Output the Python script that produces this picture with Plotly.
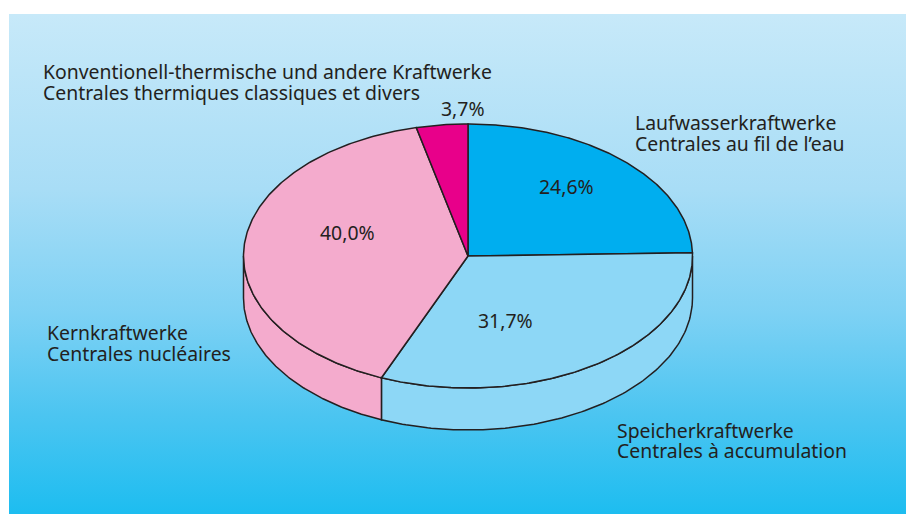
import numpy as np
import plotly.graph_objects as go

# ---- data ----
values = [24.6, 31.7, 40.0, 3.7]
labels_de = ["Laufwasserkraftwerke", "Speicherkraftwerke", "Kernkraftwerke",
             "Konventionell-thermische und andere Kraftwerke"]
labels_fr = ["Centrales au fil de l’eau", "Centrales à accumulation", "Centrales nucléaires",
             "Centrales thermiques classiques et divers"]
colors = ["#00aeef", "#8dd7f6", "#f4abcd", "#e8008a"]

# ---- layout geometry (pixels) ----
W, H = 906, 514
cx, cy, rx, ry, depth = 468, 256, 224.5, 132, 42
pct_pos = [(566, 186), (505, 320), (347, 232), (463, 108)]
name_pos = [(634, 122, 143), (616, 430, 450), (46, 332, 353), (42, 71, 92)]
line_col = "#231f20"
font_fam = "Noto Sans"
fsize = 19.4

fig = go.Figure()

# gradient background
fig.add_trace(go.Scatter(
    x=[9, W, W, 9, 9], y=[14, 14, H, H, 14], mode="lines", fill="toself",
    line=dict(width=0), hoverinfo="skip", showlegend=False,
    fillgradient=dict(type="vertical", start=14, stop=H,
                      colorscale=[[0, "#c7e9f9"], [0.35, "#a8ddf6"], [0.6, "#7dd1f4"],
                                  [0.8, "#4cc5f1"], [1, "#1dbdf0"]])))

total = sum(values)
bounds = np.concatenate([[0], np.cumsum(values) / total * 360.0])

def pt(theta_deg, dy=0.0):
    t = np.radians(theta_deg)
    return cx + rx * np.sin(t), cy - ry * np.cos(t) + dy

# side walls (front half: 90..270 degrees clockwise from top)
for i, v in enumerate(values):
    a0, a1 = bounds[i], bounds[i + 1]
    s, e = max(a0, 90.0), min(a1, 270.0)
    if e <= s:
        continue
    th = np.linspace(s, e, 120)
    xt, yt = pt(th)
    xb, yb = pt(th[::-1], depth)
    xs = np.concatenate([xt, xb, xt[:1]])
    ys = np.concatenate([yt, yb, yt[:1]])
    fig.add_trace(go.Scatter(x=xs, y=ys, mode="lines", fill="toself", fillcolor=colors[i],
                             line=dict(color=line_col, width=1.5), hoverinfo="skip",
                             showlegend=False))

# top faces
for i, v in enumerate(values):
    a0, a1 = bounds[i], bounds[i + 1]
    th = np.linspace(a0, a1, 200)
    xa, ya = pt(th)
    xs = np.concatenate([[cx], xa, [cx]])
    ys = np.concatenate([[cy], ya, [cy]])
    fig.add_trace(go.Scatter(x=xs, y=ys, mode="lines", fill="toself", fillcolor=colors[i],
                             line=dict(color=line_col, width=1.5), hoverinfo="skip",
                             showlegend=False))

annotations = []
for i, v in enumerate(values):
    px, py = pct_pos[i]
    annotations.append(dict(x=px, y=py, xref="x", yref="y", showarrow=False,
                            text=f"{v:.1f}%".replace(".", ","), xanchor="center", yanchor="middle",
                            font=dict(family=font_fam, size=fsize, color=line_col)))
    nx, ny1, ny2 = name_pos[i]
    for txt, yy in ((labels_de[i], ny1), (labels_fr[i], ny2)):
        annotations.append(dict(x=nx, y=yy, xref="x", yref="y", showarrow=False, align="left",
                                text=txt, xanchor="left", yanchor="middle", xshift=-1,
                                font=dict(family=font_fam, size=fsize, color=line_col)))

fig.update_layout(
    width=W, height=H, margin=dict(l=0, r=0, t=0, b=0),
    paper_bgcolor="white", plot_bgcolor="white",
    xaxis=dict(range=[0, W], visible=False, fixedrange=True),
    yaxis=dict(range=[H, 0], visible=False, fixedrange=True),
    annotations=annotations, showlegend=False,
)

fig.write_html("out.html", config={"displayModeBar": False},
               post_script="document.body.style.margin='0px';document.body.style.overflow='hidden';")
